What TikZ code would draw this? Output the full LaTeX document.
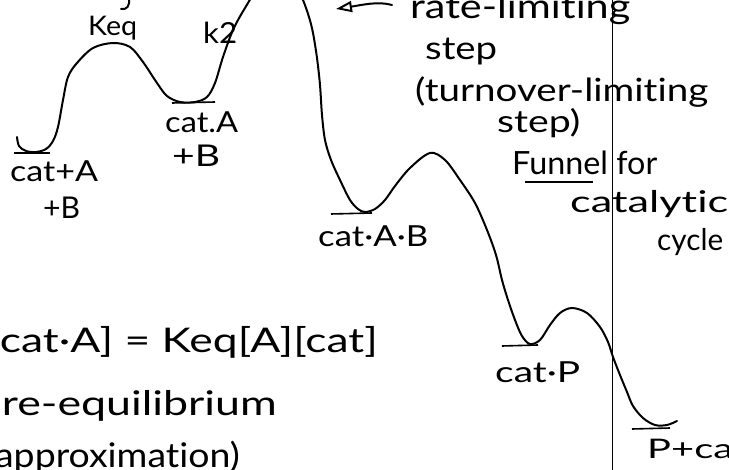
\documentclass[tikz,border=0pt]{standalone}
\usepackage{fontspec}
\usepackage{graphicx}
\usetikzlibrary{arrows.meta}
\newfontfamily\hand[Ligatures={NoCommon,NoContextual}]{Lato}
% text of a given size, stretched to a given width
\newcommand{\hw}[3]{{\fontsize{#1}{#1}\selectfont\hand\resizebox{#2pt}{\height}{#3}}}
\begin{document}
\begin{tikzpicture}[x=1pt,y=-1pt,
  ink/.style={line width=2pt,line cap=round,line join=round},
  level/.style={line width=1.6pt},
  lbl/.style={inner sep=0pt,anchor=base west},
  lblr/.style={inner sep=0pt,anchor=base east}]
\useasboundingbox (0,0) rectangle (729,470);
\fill[white] (0,0) rectangle (729,470);

% energy profile
\draw[ink] plot[smooth,tension=0.55] coordinates {
  (17,137) (19,146) (26,151) (36,152) (46,149) (53,141) (58,127) (63,100)
  (68,77) (77,63) (93,48) (113,43) (130,47) (143,62) (157,83) (167,96)
  (180,102) (195,102) (207,97) (215,83) (223,57) (233,30) (245,8)
  (260,-14) (280,-24) (296,-14) (303,0) (309,17) (313,33) (317,58)
  (320,85) (322,115) (325,140) (331,160) (340,180) (350,200) (358,209)
  (365,212) (375,209) (385,200) (395,186) (410,168) (430,153) (445,160)
  (460,180) (475,203) (487,230) (496,255) (502,280) (508,300) (515,320)
  (522,336) (530,344) (540,340) (550,325) (560,313) (572,308) (587,313)
  (600,327) (608,342) (613,357) (620,375) (627,392) (633,406) (643,418)
  (655,425) (667,425) (677,421)};

% small stroke at the top edge
\draw[ink] (129,-2) .. controls (130,6) and (127,10) .. (121,9);

% level bars
\draw[level] (14,153) -- (50,153);
\draw[level] (172,103) -- (215,102);
\draw[level] (331,214) -- (372,213);
\draw[level] (502,346) -- (538,345);
\draw[level] (632,429) -- (670,428);

% divider
\draw[line width=1.6pt] (612.5,0) -- (612.5,470);

% labels on the profile
\node[lbl] (keq) at (88,36) {\hw{27}{49}{Keq}};
\node[lbl] (k2) at (203,44) {\hw{29}{34}{k2}};
\node[lbl] (s0a) at (10,182) {\hw{29}{88}{cat+A}};
\node[lbl] (s0b) at (43,219) {\hw{30}{37}{+B}};
\node[lbl] (s1a) at (165,133) {\hw{29}{73}{cat.A}};
\node[lbl] (s1b) at (172,167) {\hw{30}{48}{+B}};
\node[lbl] (s2) at (318,247) {\hw{29}{110}{cat·A·B}};
\node[lbl] (s3) at (495,383) {\hw{29}{85}{cat·P}};
\node[lbl] (s4) at (647,458) {\hw{27}{100}{P+cat}};

% notes on the right
\node[lbl] (rate) at (410,19) {\hw{34}{220}{rate-limiting}};
\node[lbl] (step) at (425,60) {\hw{32}{72}{step}};
\node[lbl] (turn) at (415,102) {\hw{32}{293}{(turnover-limiting}};
\node[lbl] (step2) at (497,133) {\hw{31}{83}{step)}};
\node[lbl] (funnel) at (512,175) {\hw{32}{145}{Funnel for}};
\node[lbl] (catal) at (570,213) {\hw{30}{158}{catalytic}};
\node[lbl] (cycle) at (657,251) {\hw{30}{66}{cycle}};
\draw[line width=1.6pt] (525,182) -- (593,182);

% arrow to the rate-limiting barrier
\coordinate (tip) at (336,9);
\draw[ink,-{Triangle[open,length=16pt,width=11pt]}] (rate.west |- 0,5) ++(-18,0)
  .. controls (378,1) and (362,5) .. (tip);

% equation at the bottom left
\node[lblr] (eq) at (378,353) {\hw{34}{390}{[cat·A] = Keq[A][cat]}};
\node[lblr] (pre) at (277,416) {\hw{34}{300}{pre-equilibrium}};
\node[lblr] (appr) at (240,468) {\hw{34}{254}{(approximation)}};
\end{tikzpicture}
\end{document}
